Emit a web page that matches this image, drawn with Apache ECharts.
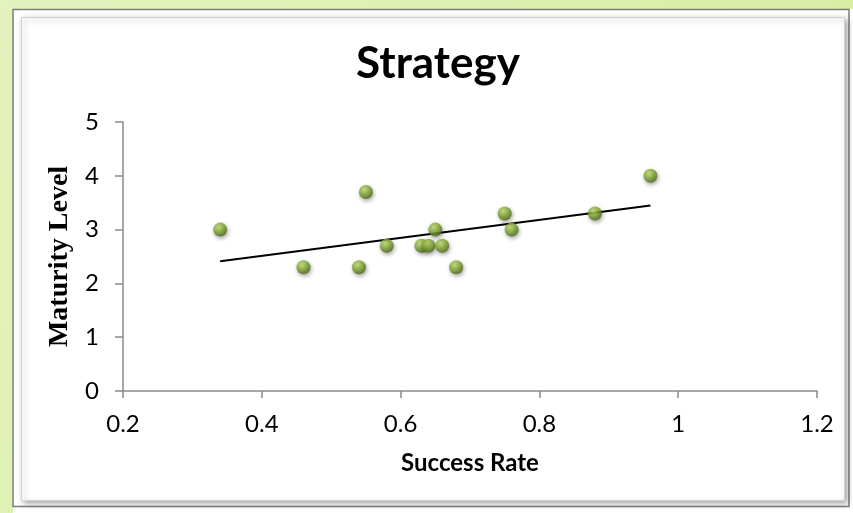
<!DOCTYPE html>
<html>
<head>
<meta charset="utf-8">
<script src="https://cdn.jsdelivr.net/npm/echarts@6/dist/echarts.min.js"></script>
<style>
  html, body { margin: 0; padding: 0; background: #ffffff; }
  #chart { width: 853px; height: 513px; }
</style>
</head>
<body>
<div id="chart"></div>
<script>
// Strategy: success rate vs. maturity level, one point per respondent
const successRate   = [0.34, 0.46, 0.54, 0.55, 0.58, 0.63, 0.64, 0.65, 0.66, 0.68, 0.75, 0.76, 0.88, 0.96];
const maturityLevel = [3.0,  2.3,  2.3,  3.7,  2.7,  2.7,  2.7,  3.0,  2.7,  2.3,  3.3,  3.0,  3.3,  4.0];

// Axis ranges and tick steps
const xRange = [0.2, 1.2];
const xStep = 0.2;
const yRange = [0, 5];
const yStep = 1;

const chartTitle = 'Strategy';
const xName = 'Success Rate';
const yName = 'Maturity Level';

// Least-squares linear trend over the points
function linearTrend(xs, ys) {
  const n = xs.length;
  const mx = xs.reduce((a, b) => a + b, 0) / n;
  const my = ys.reduce((a, b) => a + b, 0) / n;
  let sxy = 0, sxx = 0;
  for (let i = 0; i < n; i++) {
    sxy += (xs[i] - mx) * (ys[i] - my);
    sxx += (xs[i] - mx) * (xs[i] - mx);
  }
  const slope = sxy / sxx;
  const intercept = my - slope * mx;
  const x0 = Math.min(...xs), x1 = Math.max(...xs);
  return [[x0, intercept + slope * x0], [x1, intercept + slope * x1]];
}

const points = successRate.map((x, i) => [x, maturityLevel[i]]);
const trend = linearTrend(successRate, maturityLevel);

const chart = echarts.init(document.getElementById('chart'), null, { renderer: 'canvas' });

const axisGray = '#8a8a8a';
const tickFont = { fontFamily: 'Lato', fontSize: 24, color: '#000000' };

chart.setOption({
  animation: false,
  backgroundColor: '#ffffff',
  graphic: [
    // outer green glow band
    { type: 'rect', z: -30, silent: true,
      shape: { x: 0, y: 0, width: 853, height: 513 },
      style: { fill: new echarts.graphic.LinearGradient(0, 0, 1, 1, [
        { offset: 0, color: '#e4f3bd' }, { offset: 1, color: '#d5eb9c' }]) } },
    // frame body
    { type: 'rect', z: -29, silent: true,
      shape: { x: 13, y: 9, width: 840, height: 504 },
      style: { fill: '#ffffff' } },
    { type: 'rect', z: -28, silent: true,
      shape: { x: 13, y: 9.5, width: 836, height: 497 },
      style: { fill: '#ffffff', stroke: '#7c7c7c', lineWidth: 1.5 } },
    // inner panel with soft shadow
    { type: 'rect', z: -27, silent: true,
      shape: { x: 21.5, y: 17.5, width: 823, height: 483 },
      style: { fill: '#ffffff', stroke: '#d2d2d2', lineWidth: 1,
        shadowBlur: 6, shadowColor: 'rgba(0,0,0,0.35)', shadowOffsetX: 2, shadowOffsetY: 2 } },
    // chart title
    { type: 'text', z: 10, silent: true,
      x: 438, y: 64,
      style: { text: chartTitle, align: 'center', verticalAlign: 'middle',
        fontFamily: 'Lato', fontWeight: 'bold', fontSize: 44, fill: '#000000' } }
  ],
  grid: { left: 123, right: 36, top: 122, bottom: 122, containLabel: false },
  xAxis: {
    type: 'value',
    min: xRange[0], max: xRange[1], interval: xStep,
    name: xName,
    nameLocation: 'middle',
    nameGap: 60,
    nameTextStyle: { fontFamily: 'Lato', fontWeight: 'bold', fontSize: 24, color: '#000000' },
    axisLine: { show: true, lineStyle: { color: axisGray, width: 1.5 } },
    axisTick: { show: true, inside: false, length: 7, lineStyle: { color: axisGray, width: 1.5 } },
    axisLabel: Object.assign({ margin: 21, formatter: v => String(Math.round(v * 10) / 10) }, tickFont),
    splitLine: { show: false }
  },
  yAxis: {
    type: 'value',
    min: yRange[0], max: yRange[1], interval: yStep,
    name: yName,
    nameLocation: 'middle',
    nameGap: 43,
    nameRotate: 90,
    nameTextStyle: { fontFamily: 'Liberation Serif', fontWeight: 'bold', fontSize: 28, color: '#000000' },
    axisLine: { show: true, lineStyle: { color: axisGray, width: 1.5 } },
    axisTick: { show: true, inside: false, length: 8, lineStyle: { color: axisGray, width: 1.5 } },
    axisLabel: Object.assign({ margin: 24 }, tickFont),
    splitLine: { show: false }
  },
  series: [
    {
      name: 'Trend',
      type: 'line',
      data: trend,
      symbol: 'none',
      silent: true,
      z: 2,
      lineStyle: { color: '#000000', width: 2 }
    },
    {
      name: yName,
      type: 'scatter',
      data: points,
      symbol: 'circle',
      symbolSize: 14,
      z: 3,
      itemStyle: {
        color: new echarts.graphic.RadialGradient(0.4, 0.35, 0.65, [
          { offset: 0, color: '#c2dc72' },
          { offset: 0.45, color: '#8ab238' },
          { offset: 1, color: '#4e6b16' }
        ]),
        shadowBlur: 4,
        shadowColor: 'rgba(0,0,0,0.45)',
        shadowOffsetX: 1,
        shadowOffsetY: 2
      }
    }
  ]
});
</script>
</body>
</html>
